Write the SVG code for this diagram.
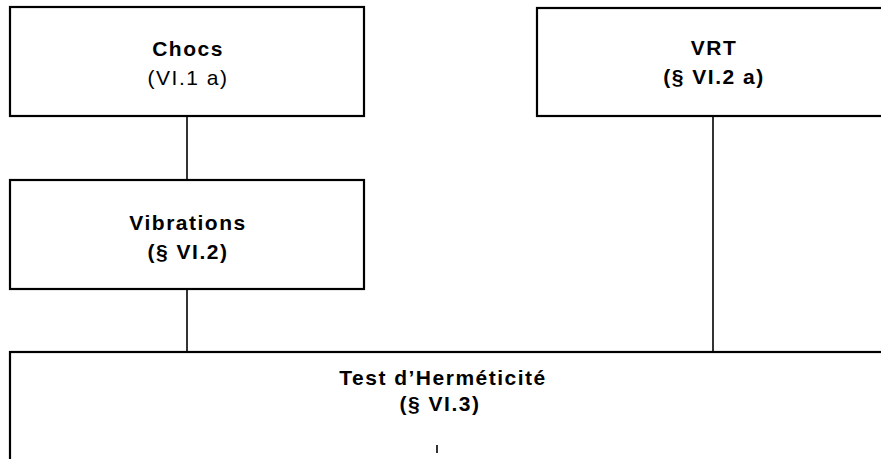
<svg xmlns="http://www.w3.org/2000/svg" width="881" height="459" viewBox="0 0 881 459">
<style>
.box{fill:#fff;stroke:#000;stroke-width:2.2}
.conn{stroke:#000;stroke-width:1.6;fill:none}
text{font-family:"Liberation Sans",Arial,sans-serif;font-size:21px;fill:#000;text-anchor:middle;letter-spacing:1.5px}
.b{font-weight:bold}
</style>
<rect width="881" height="459" fill="#fff"/>
<g id="chocs">
<rect class="box" x="10" y="7" width="354" height="109"/>
<text class="b" x="188" y="56">Chocs</text>
<text x="188" y="85">(VI.1 a)</text>
</g>
<g id="vrt">
<rect class="box" x="537" y="8" width="350" height="108"/>
<text class="b" x="714" y="55">VRT</text>
<text class="b" x="714" y="84">(§ VI.2 a)</text>
</g>
<g id="vibrations">
<rect class="box" x="10" y="180" width="354" height="109"/>
<text class="b" x="188" y="230">Vibrations</text>
<text class="b" x="188" y="259">(§ VI.2)</text>
</g>
<g id="test">
<rect class="box" x="10" y="352" width="877" height="120"/>
<text class="b" x="443" y="385">Test d’Herméticité</text>
<text class="b" x="440" y="411">(§ VI.3)</text>
</g>
<g id="connectors">
<line class="conn" x1="187" y1="116" x2="187" y2="180"/>
<line class="conn" x1="187" y1="289" x2="187" y2="352"/>
<line class="conn" x1="713" y1="116" x2="713" y2="352"/>
<line class="conn" x1="437" y1="445" x2="437" y2="453"/>
</g>
</svg>
